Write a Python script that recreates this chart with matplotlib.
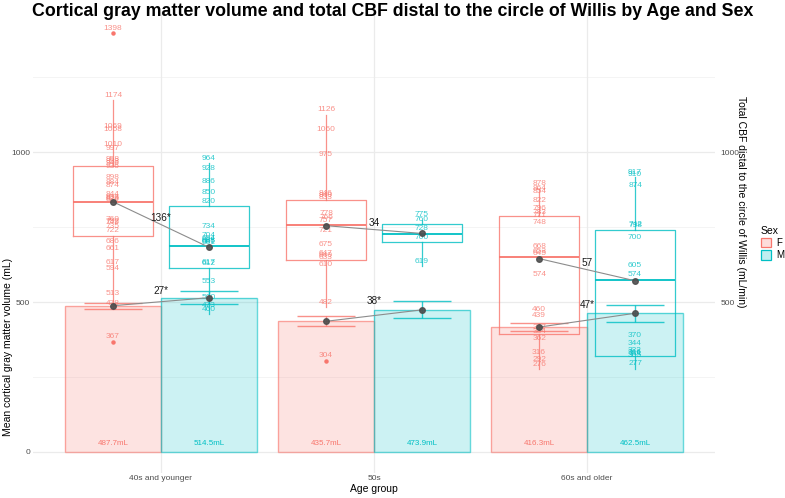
import numpy as np
import matplotlib
matplotlib.use("Agg")
import matplotlib.pyplot as plt
from matplotlib.patches import Patch

plt.rcParams['font.family'] = ['Liberation Sans', 'DejaVu Sans']

# ---- data ----
age_groups = ["40s and younger", "50s", "60s and older"]
sexes = ["F", "M"]

gm_mean_f = [487.7, 435.7, 416.3]
gm_mean_m = [514.5, 473.9, 462.5]
gm_se_f = [10, 17, 14]
gm_se_m = [22, 28, 28]
gm_diff = ["27*", "38*", "47*"]

cbf_f = [
    [1398, 1174, 1069, 1058, 1010, 997, 958, 953, 946, 936, 898, 884, 874, 844,
     833, 829, 826, 760, 752, 749, 735, 722, 686, 661, 617, 594, 513, 478, 367],
    [1126, 1060, 975, 846, 840, 833, 778, 766, 757, 721, 675, 647, 640, 633,
     610, 482, 304],
    [878, 864, 854, 822, 796, 783, 771, 748, 668, 653, 645, 574, 460, 439,
     397, 384, 362, 316, 292, 276],
]
cbf_m = [
    [964, 928, 886, 850, 820, 734, 704, 694, 688, 685, 681, 617, 612, 553,
     500, 473, 460],
    [775, 760, 728, 700, 619],
    [917, 910, 874, 742, 738, 700, 605, 574, 370, 344, 322, 316, 311, 305, 277],
]
cbf_mid_f = [835, 755, 645]
cbf_mid_m = [683, 729, 571]
cbf_diff = ["136*", "34", "57"]

COL_F = "#F8766D"
COL_M = "#00BFC4"
W, H = 785, 498

fig = plt.figure(figsize=(W / 100, H / 100), dpi=100)
ax = fig.add_axes([33 / W, 1 - 472.7 / H, 682 / W, 460.5 / H])

x = np.arange(1, len(age_groups) + 1)
off = 0.225
xf, xm = x - off, x + off

# gridlines (theme_minimal look)
for v in [250, 750, 1250]:
    ax.axhline(v, color="#F2F2F2", lw=0.6, zorder=0)
for v in [0, 500, 1000]:
    ax.axhline(v, color="#EBEBEB", lw=0.9, zorder=0)
for c in x:
    ax.axvline(c, color="#EBEBEB", lw=0.9, zorder=0)

# bars: mean cortical GM volume
ax.bar(xf, gm_mean_f, width=0.45, color=COL_F, alpha=0.2, zorder=1)
ax.bar(xm, gm_mean_m, width=0.45, color=COL_M, alpha=0.2, zorder=1)
ax.bar(xf, gm_mean_f, width=0.45, fill=False, edgecolor=COL_F, lw=1.0, alpha=0.6, zorder=1)
ax.bar(xm, gm_mean_m, width=0.45, fill=False, edgecolor=COL_M, lw=1.0, alpha=0.6, zorder=1)

for i in range(3):
    lab_y = 26
    ax.text(xf[i], lab_y, f"{gm_mean_f[i]}mL", color=COL_F, fontsize=5.8,
            ha="center", va="center", zorder=5)
    ax.text(xm[i], lab_y, f"{gm_mean_m[i]}mL", color=COL_M, fontsize=5.8,
            ha="center", va="center", zorder=5)

# error bars
ax.errorbar(xf, gm_mean_f, yerr=gm_se_f, fmt="none", ecolor=COL_F, elinewidth=1.0,
            capsize=21, capthick=1.0, alpha=0.8, zorder=2)
ax.errorbar(xm, gm_mean_m, yerr=gm_se_m, fmt="none", ecolor=COL_M, elinewidth=1.0,
            capsize=21, capthick=1.0, alpha=0.8, zorder=2)

# boxplots: CBF
for data, pos, col in [(cbf_f, xf, COL_F), (cbf_m, xm, COL_M)]:
    ax.boxplot(data, positions=pos, widths=0.375, whis=1.5, showcaps=False,
               manage_ticks=False,
               boxprops=dict(color=col, lw=0.9, alpha=0.8),
               whiskerprops=dict(color=col, lw=0.9, alpha=0.8),
               medianprops=dict(color=col, lw=1.3),
               flierprops=dict(marker="o", markersize=2.2, markerfacecolor=col,
                               markeredgecolor=col),
               zorder=3)

# value labels
for data, pos, col in [(cbf_f, xf, COL_F), (cbf_m, xm, COL_M)]:
    for i, vals in enumerate(data):
        for v in vals:
            ax.annotate(str(v), (pos[i], v), xytext=(0, 3.6), textcoords="offset points",
                        ha="center", va="center", fontsize=6, color=col, alpha=0.8,
                        zorder=4)

# connecting points
for i in range(3):
    ax.plot([xf[i], xm[i]], [gm_mean_f[i], gm_mean_m[i]], color="#8C8C8C", lw=0.8, zorder=6)
    ax.plot([xf[i], xm[i]], [cbf_mid_f[i], cbf_mid_m[i]], color="#8C8C8C", lw=0.8, zorder=6)
    ax.plot([xf[i], xm[i]], [gm_mean_f[i], gm_mean_m[i]], "o", color="#4D4D4D",
            markersize=4, alpha=0.9, zorder=7)
    ax.plot([xf[i], xm[i]], [cbf_mid_f[i], cbf_mid_m[i]], "o", color="#4D4D4D",
            markersize=4, alpha=0.9, zorder=7)
    top = max(gm_mean_f[i] + gm_se_f[i], gm_mean_m[i] + gm_se_m[i])
    ax.text(x[i], top, gm_diff[i], fontsize=7.2, color="#1A1A1A", ha="center",
            va="center", zorder=8)
    ax.annotate(cbf_diff[i], (x[i], (cbf_mid_f[i] + cbf_mid_m[i]) / 2), xytext=(0, 5),
                textcoords="offset points", fontsize=7.2, color="#1A1A1A",
                ha="center", va="center", zorder=8)

ax.set_xlim(0.4, 3.6)
ax.set_ylim(-70, 1468)
ax.set_xticks(x)
ax.set_xticklabels(age_groups, fontsize=6, color="#4D4D4D")
ax.set_yticks([0, 500, 1000])
ax.set_yticklabels(["0", "500", "1000"], fontsize=6, color="#4D4D4D")
ax.tick_params(length=0, pad=2)
for s in ax.spines.values():
    s.set_visible(False)
ax.set_xlabel("Age group", fontsize=7.5, labelpad=1)

ax2 = ax.twinx()
ax2.set_ylim(ax.get_ylim())
ax2.set_yticks([500, 1000])
ax2.set_yticklabels(["500", "1000"], fontsize=6, color="#4D4D4D")
ax2.tick_params(length=0, pad=4)
for s in ax2.spines.values():
    s.set_visible(False)

fig.text(8 / W, 1 - 347 / H, "Mean cortical gray matter volume (mL)", rotation=90,
         ha="center", va="center", fontsize=7.5)
fig.text(741 / W, 1 - 202 / H, "Total CBF distal to the circle of Willis (mL/min)",
         rotation=270, ha="center", va="center", fontsize=7.5)
fig.text(0.5, 1 - 12 / H,
         "Cortical gray matter volume and total CBF distal to the circle of Willis by Age and Sex",
         ha="center", va="center", fontsize=12.8, fontweight="bold")

handles = [Patch(facecolor=(*matplotlib.colors.to_rgb(c), 0.25), edgecolor=c, lw=0.9)
           for c in (COL_F, COL_M)]
fig.legend(handles, sexes, title="Sex", loc="center left",
           bbox_to_anchor=(752 / W, 1 - 243 / H), frameon=False, fontsize=7,
           title_fontsize=7.5, handlelength=1.1, handleheight=1.1, handletextpad=0.5,
           labelspacing=0.25, alignment="left")

fig.savefig("out.png", dpi=100)
